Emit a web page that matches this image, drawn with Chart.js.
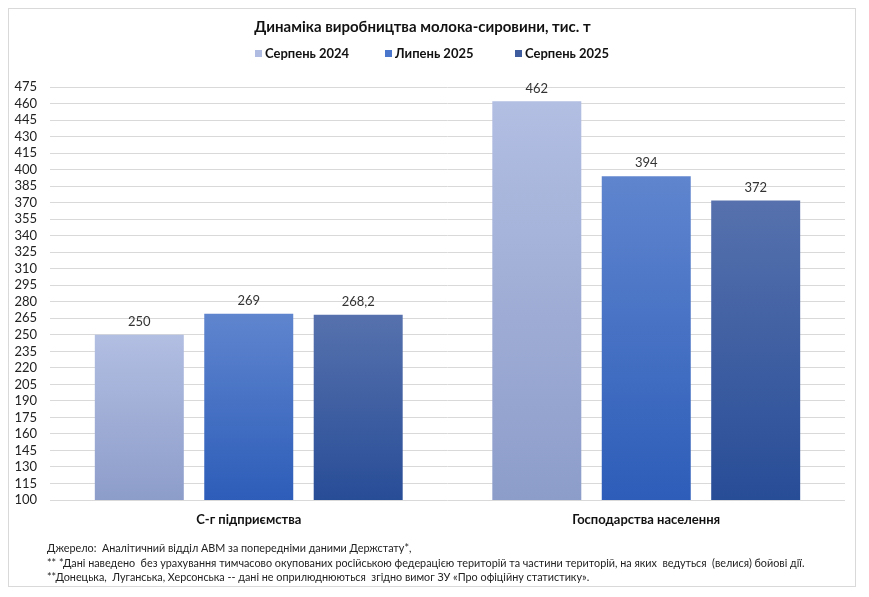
<!DOCTYPE html>
<html>
<head>
<meta charset="utf-8">
<script src="https://cdn.jsdelivr.net/npm/chart.js@4.4.1/dist/chart.umd.min.js"></script>
<style>
  html, body { margin: 0; padding: 0; background: #fff; }
  #wrap { position: relative; width: 869px; height: 597px; }
  #frame { position: absolute; left: 8px; top: 8px; width: 848px; height: 579px; border: 1px solid #D9D9D9; box-sizing: border-box; pointer-events: none; }
  canvas { position: absolute; left: 0; top: 0; }
  .note { position: absolute; left: 47px; font-family: Lato, "Liberation Sans", sans-serif; font-size: 10.8px; color: #222; white-space: nowrap; line-height: 14px; }
</style>
</head>
<body>
<div id="wrap">
  <canvas id="c" width="869" height="597"></canvas>
  <div id="frame"></div>
  <div class="note" style="top:541px">Джерело:&nbsp; Аналітичний відділ АВМ за попередніми даними Держстату*,</div>
  <div class="note" style="top:556px">** *Дані наведено&nbsp; без урахування тимчасово окупованих російською федерацією територій та частини територій, на яких&nbsp; ведуться&nbsp; (велися) бойові дії.</div>
  <div class="note" style="top:570px">**Донецька,&nbsp; Луганська, Херсонська -- дані не оприлюднюються&nbsp; згідно вимог ЗУ «Про офіційну статистику».</div>
</div>
<script>
const categories = ["С-г підприємства", "Господарства населення"];
const seriesNames = ["Серпень 2024", "Липень 2025", "Серпень 2025"];
const serpen2024 = [250, 462];
const lypen2025 = [269, 394];
const serpen2025 = [268.2, 372];
const yMin = 100, yMax = 475, yStep = 15;

const FONT = 'Lato, "Liberation Sans", sans-serif';
const gradStops = [
  ["#B2BEE2", "#8D9DCA"],
  ["#5F85CE", "#2D5DB9"],
  ["#5671AD", "#284D97"]
];
const legendColors = ["#B0BCE2", "#4A76CC", "#3F5C9F"];

function barFill(i) {
  return function(ctx) {
    const chart = ctx.chart;
    const area = chart.chartArea;
    if (!area || ctx.type !== 'data') return legendColors[i];
    const y = chart.scales.y;
    const top = y.getPixelForValue(ctx.raw);
    const bottom = y.getPixelForValue(yMin);
    if (!isFinite(top) || !isFinite(bottom) || top === bottom) return legendColors[i];
    const g = chart.ctx.createLinearGradient(0, top, 0, bottom);
    g.addColorStop(0, gradStops[i][0]);
    g.addColorStop(1, gradStops[i][1]);
    return g;
  };
}

const valueLabels = {
  id: 'valueLabels',
  afterDatasetsDraw(chart) {
    const c = chart.ctx;
    c.save();
    c.font = '13px ' + FONT;
    c.fillStyle = '#333';
    c.textAlign = 'center';
    c.textBaseline = 'middle';
    chart.data.datasets.forEach((ds, di) => {
      const meta = chart.getDatasetMeta(di);
      meta.data.forEach((el, idx) => {
        const v = ds.data[idx];
        c.fillText(String(v).replace('.', ','), el.x, el.y - 13);
      });
    });
    c.restore();
  }
};

const customLegend = {
  id: 'customLegend',
  afterDraw(chart) {
    const c = chart.ctx;
    c.save();
    c.font = 'bold 13px ' + FONT;
    c.textBaseline = 'middle';
    c.textAlign = 'left';
    const start = 255, pitch = 130, y = 54;
    chart.data.datasets.forEach((ds, i) => {
      const x = start + i * pitch;
      c.fillStyle = legendColors[i];
      c.fillRect(x, y - 4, 7, 7);
      c.fillStyle = '#111';
      c.fillText(ds.label, x + 10, y);
    });
    c.restore();
  }
};

new Chart(document.getElementById('c'), {
  type: 'bar',
  data: {
    labels: categories,
    datasets: [
      { label: seriesNames[0], data: serpen2024, backgroundColor: barFill(0) },
      { label: seriesNames[1], data: lypen2025, backgroundColor: barFill(1) },
      { label: seriesNames[2], data: serpen2025, backgroundColor: barFill(2) }
    ]
  },
  options: {
    responsive: false,
    animation: false,
    devicePixelRatio: 1,
    layout: { padding: { left: 0, right: 24, top: 0, bottom: 0 } },
    datasets: { bar: { categoryPercentage: 0.826, barPercentage: 0.813 } },
    plugins: {
      legend: { display: false },
      tooltip: { enabled: false },
      title: {
        display: true,
        text: 'Динаміка виробництва молока-сировини, тис. т',
        color: '#111',
        font: { family: FONT, size: 15, weight: 'bold' },
        padding: { top: 18, bottom: 51 }
      }
    },
    scales: {
      x: {
        grid: { display: false, drawTicks: false },
        border: { display: false },
        ticks: { color: '#111', padding: 12, font: { family: FONT, size: 13, weight: 'bold' } },
        afterFit(scale) { scale.height = 97; }
      },
      y: {
        min: yMin, max: yMax,
        grid: { color: '#D9D9D9', lineWidth: 1, drawTicks: false },
        border: { display: false },
        ticks: { stepSize: yStep, autoSkip: false, color: '#222', padding: 13, font: { family: FONT, size: 13 } },
        afterFit(scale) { scale.width = 50; }
      }
    }
  },
  plugins: [valueLabels, customLegend]
});
</script>
</body>
</html>
